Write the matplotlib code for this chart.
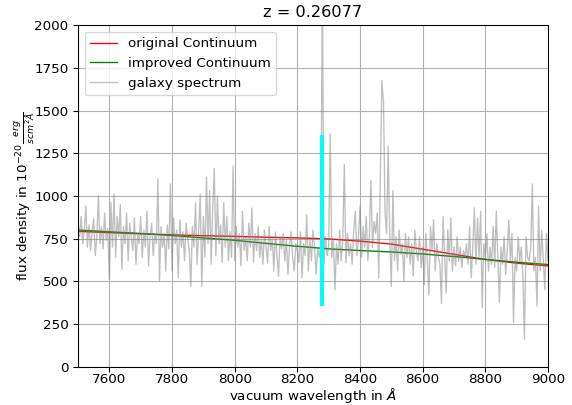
import numpy as np
import matplotlib
matplotlib.use("Agg")
import matplotlib.pyplot as plt

wave = np.arange(7500, 9001, 5)
flux = [
    # 7500
    850, 760, 880, 720, 800, 940, 700, 830, 680, 790, 870, 650, 760, 1000, 720, 820, 690, 900, 740, 810,
    # 7600
    510, 960, 700, 1010, 640, 880, 760, 950, 570, 820, 720, 900, 620, 840, 760, 680, 870, 600, 780, 720,
    # 7700
    880, 640, 800, 700, 910, 590, 760, 840, 650, 780, 720, 1100, 500, 820, 700, 780, 560, 830, 690, 1070,
    # 7800
    560, 870, 720, 800, 520, 860, 700, 790, 620, 840, 750, 680, 470, 820, 700, 960, 600, 790, 1010, 470,
    # 7900
    880, 640, 1110, 720, 1030, 600, 940, 1160, 650, 1000, 720, 830, 610, 960, 700, 880, 620, 790, 640, 1175,
    # 8000
    620, 820, 700, 780, 590, 910, 680, 760, 620, 840, 700, 930, 610, 780, 680, 820, 640, 750, 600, 800,
    # 8100
    700, 610, 820, 680, 750, 560, 790, 650, 530, 760, 690, 780, 620, 740, 540, 700, 790, 640, 560, 720,
    # 8200
    680, 610, 790, 520, 720, 650, 890, 560, 740, 620, 800, 700, 540, 690, 640, 720, 2300, 600, 760, 650,
    # 8300
    700, 1365, 640, 750, 450, 720, 600, 800, 620, 740, 1185, 610, 780, 650, 720, 600, 800, 910, 650, 760,
    # 8400
    940, 640, 820, 700, 880, 620, 770, 1090, 700, 850, 780, 900, 520, 1130, 1675, 1550, 900, 780, 1290, 760,
    # 8500
    470, 1030, 620, 760, 560, 800, 660, 720, 500, 780, 640, 760, 600, 720, 530, 800, 680, 620, 760, 580,
    # 8600
    700, 480, 780, 620, 420, 820, 680, 860, 560, 720, 640, 600, 370, 880, 650, 430, 800, 620, 870, 560,
    # 8700
    700, 590, 760, 620, 700, 580, 680, 640, 720, 600, 820, 520, 700, 930, 600, 870, 640, 910, 345, 720,
    # 8800
    640, 780, 560, 700, 600, 820, 580, 910, 640, 375, 700, 600, 760, 540, 680, 860, 620, 780, 260, 640,
    # 8900
    560, 760, 620, 700, 520, 160, 760, 640, 620, 700, 1070, 560, 640, 355, 940, 560, 800, 620, 450, 780,
    # 9000
    620,
]

# continuum fits, read at 100 A nodes
cont_wave = np.arange(7500, 9001, 100)
orig_cont = [792, 785, 778, 772, 767, 763, 758, 754, 748, 735, 718, 688, 658, 628, 606, 590]
impr_cont = [800, 790, 780, 768, 754, 740, 722, 705, 690, 680, 672, 660, 645, 628, 612, 598]

# marked line position
line_wave = 8280
line_lo = 355
line_hi = 1355

fig = plt.figure(figsize=(572 / 97, 405 / 97), dpi=97)
ax = fig.add_subplot(111)
fig.subplots_adjust(left=0.1364, right=0.958, top=0.938, bottom=0.0946)

ax.plot(cont_wave, orig_cont, color='red', linewidth=1, label='original Continuum')
ax.plot(cont_wave, impr_cont, color='green', linewidth=1, label='improved Continuum')
ax.plot(wave, flux, color='grey', alpha=0.5, linewidth=1, label='galaxy spectrum')
ax.vlines(line_wave, line_lo, line_hi, color='cyan', linewidth=3)

ax.set_xlim(7500, 9000)
ax.set_ylim(0, 2000)
ax.set_xticks(np.arange(7600, 9001, 200))
ax.set_yticks(np.arange(0, 2001, 250))
ax.tick_params(axis='x', pad=1.5)
ax.grid(True)
ax.set_title('z = 0.26077')
ax.set_xlabel(r'vacuum wavelength in $\AA$')
ax.set_ylabel(r'flux density in $10^{-20}\frac{erg}{scm^2\AA}$')
ax.xaxis.set_label_coords(0.5, -0.057)
ax.yaxis.set_label_coords(-0.088, 0.5)
ax.legend(loc='upper left')

fig.savefig('out.png', dpi=97)
